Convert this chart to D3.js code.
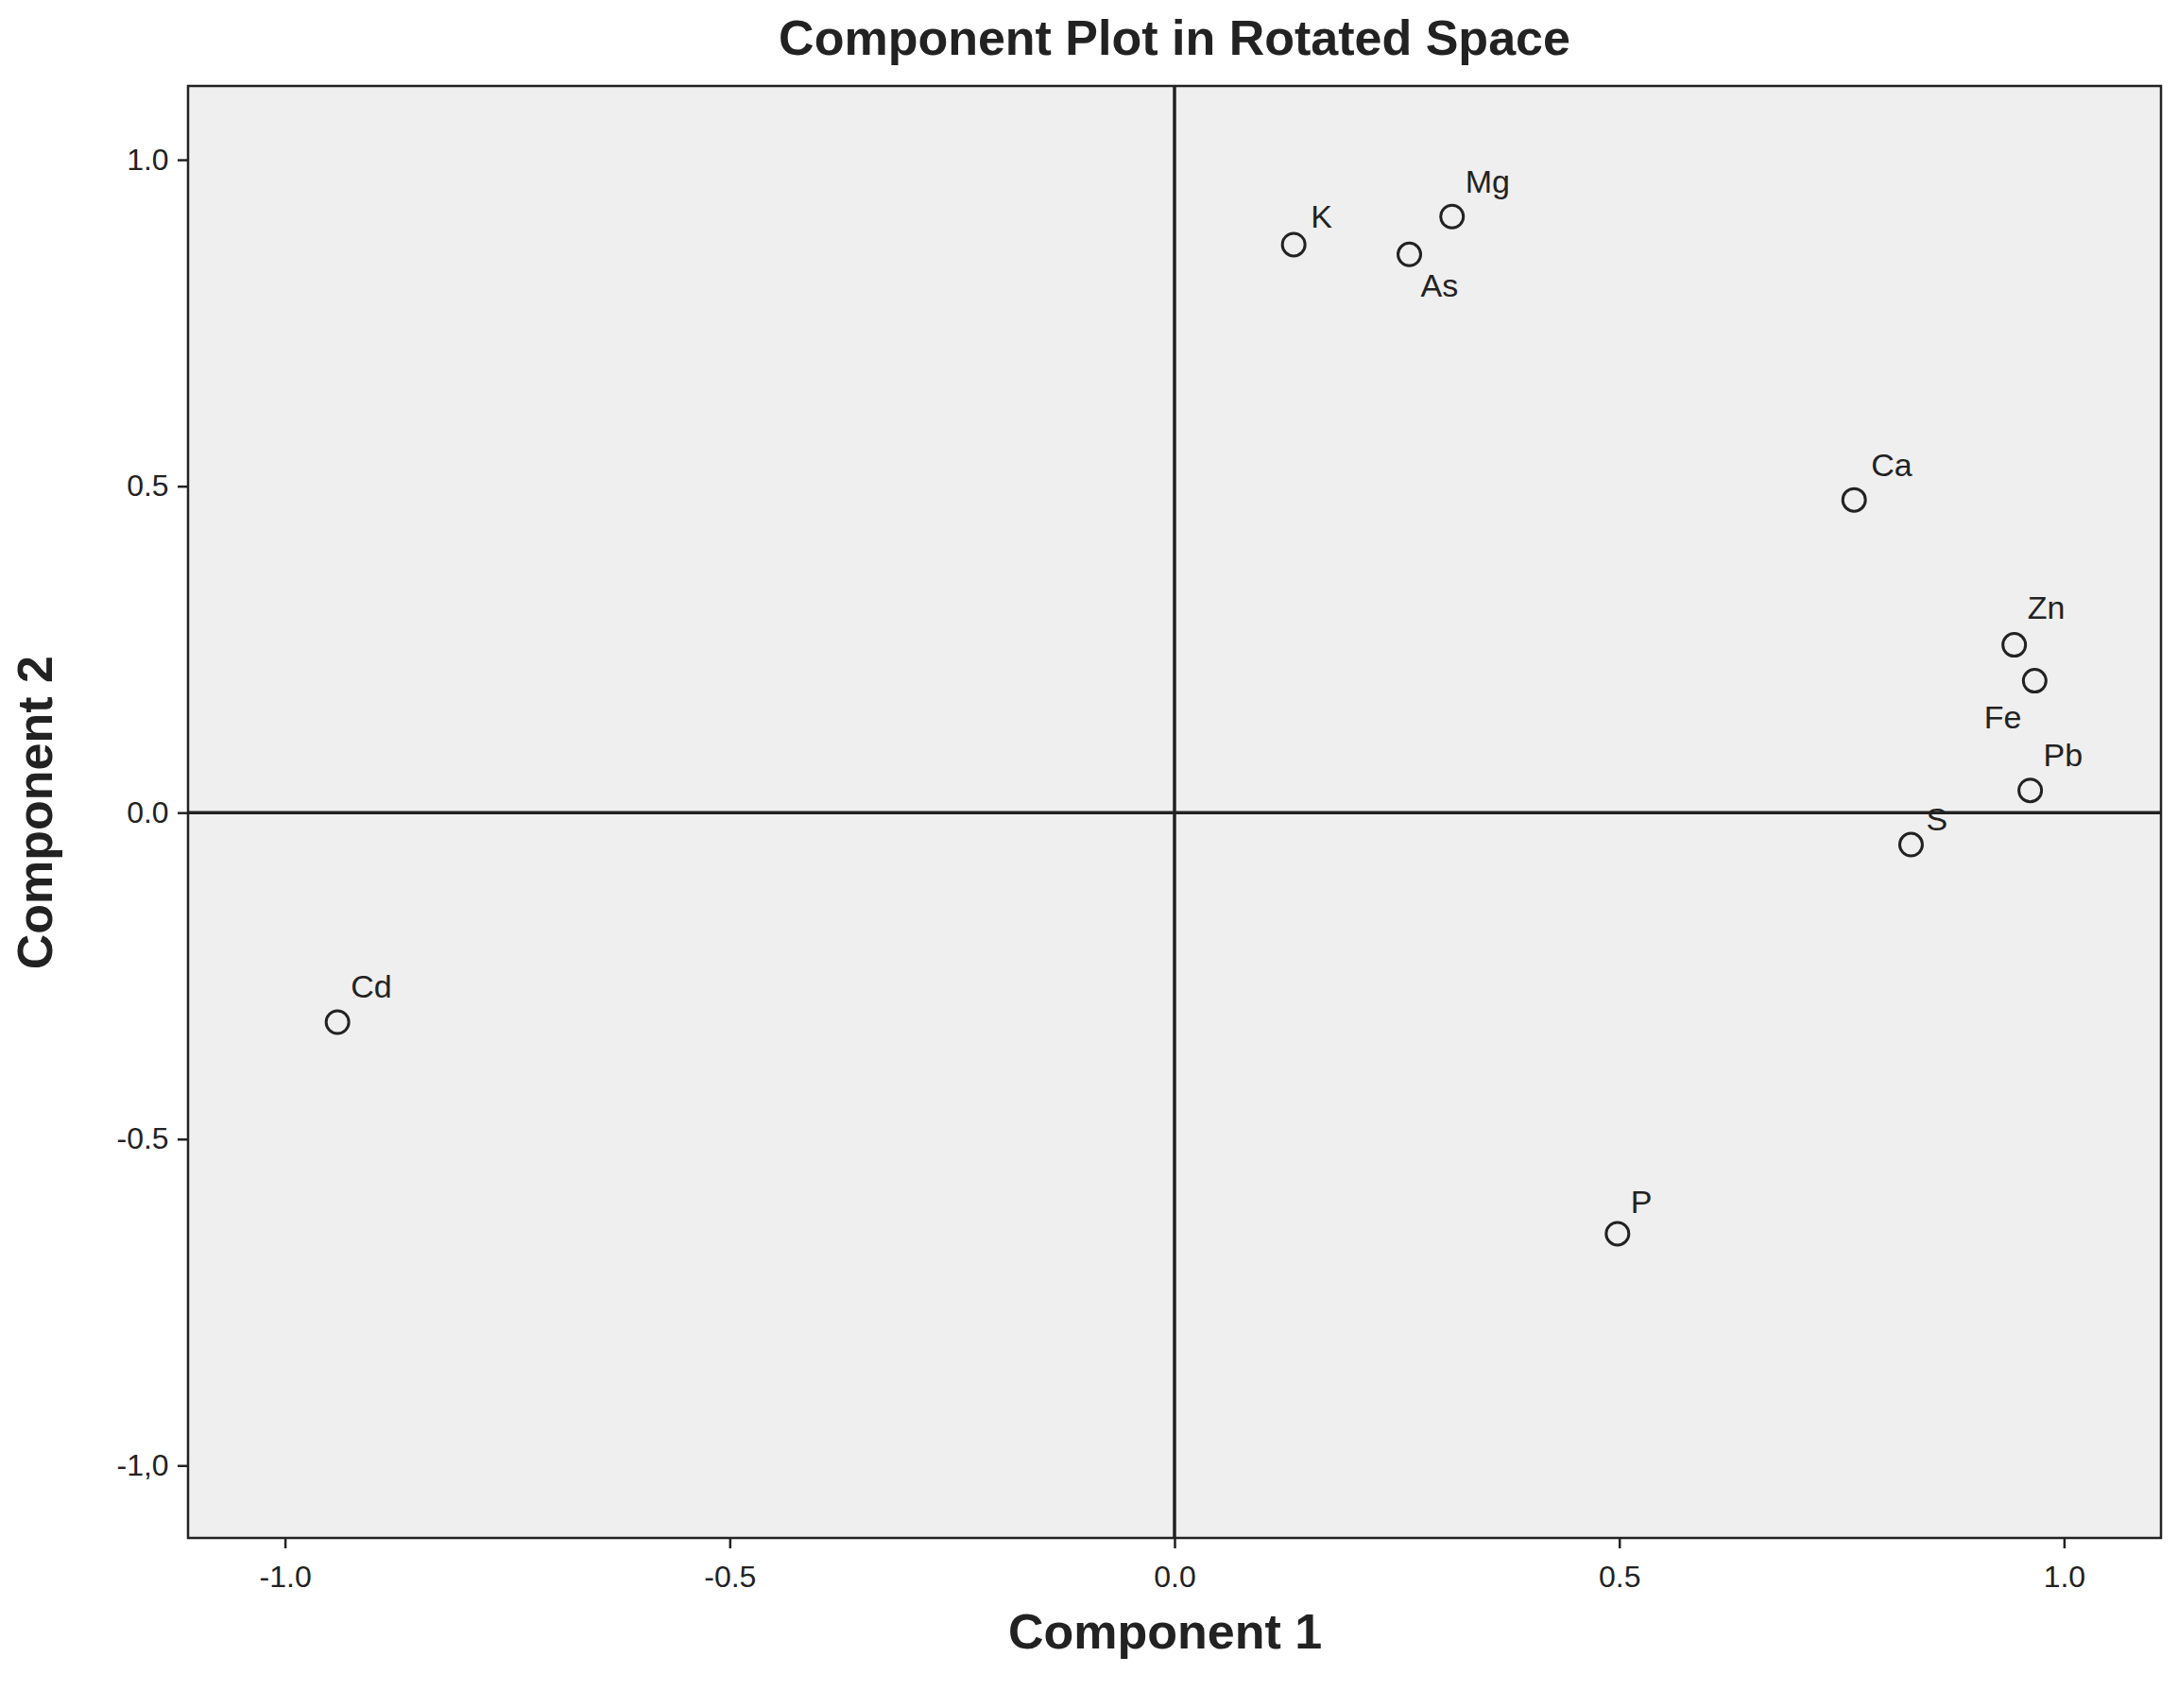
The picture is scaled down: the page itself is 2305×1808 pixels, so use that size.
<!DOCTYPE html>
<html><head><meta charset="utf-8">
<script src="https://cdn.jsdelivr.net/npm/d3@7"></script>
<style>body{margin:0;background:#fff}text{font-family:"Liberation Sans",Arial,sans-serif}</style>
</head><body><div id="chart"></div>
<script>
const labels = ['K','As','Mg','Ca','Zn','Fe','Pb','S','Cd','P']
const comp1 = [0.134,0.264,0.312,0.764,0.944,0.967,0.962,0.828,-0.941,0.498]
const comp2 = [0.870,0.855,0.913,0.479,0.257,0.202,0.034,-0.049,-0.321,-0.645]
const xTicks = [-1,-0.5,0,0.5,1]
const xTickLabels = ['-1.0','-0.5','0.0','0.5','1.0']
const yTicks = [1,0.5,0,-0.5,-1]
const yTickLabels = ['1.0','0.5','0.0','-0.5','-1,0']
// label offsets (dx, dy, anchor)
const lblPos = {K:[18,-18,'start'],As:[12,45,'start'],Mg:[14,-25,'start'],Ca:[18,-25,'start'],
  Zn:[14,-28,'start'],Fe:[-14,50,'end'],Pb:[14,-26,'start'],S:[16,-15,'start'],Cd:[14,-26,'start'],P:[14,-22,'start']}

const W = 2305, H = 1808
const m = {left: 199, right: 18, top: 91, bottom: 180}
const w = W - m.left - m.right
const h = H - m.top - m.bottom

const svg = d3.select('#chart').append('svg').attr('width', W).attr('height', H)
const g = svg.append('g').attr('transform', `translate(${m.left}, ${m.top})`)

const x = d3.scaleLinear().domain([-1.109, 1.109]).range([0, w])
const y = d3.scaleLinear().domain([-1.111, 1.113]).range([h, 0])

g.append('rect').attr('width', w).attr('height', h).attr('fill', '#efefef')
  .attr('stroke', '#222').attr('stroke-width', 2.5)

const xAxis = d3.axisBottom(x).tickValues(xTicks).tickSize(11).tickFormat((d, i) => xTickLabels[i])
const yAxis = d3.axisLeft(y).tickValues(yTicks).tickSize(11).tickFormat((d, i) => yTickLabels[i])
const ax = g.append('g').attr('transform', `translate(0, ${h})`).call(xAxis)
const ay = g.append('g').call(yAxis)
;[ax, ay].forEach(a => {
  a.select('.domain').remove()
  a.selectAll('line').attr('stroke', '#222').attr('stroke-width', 2.5)
  a.selectAll('text').attr('font-size', 32).attr('fill', '#222')
})
ax.selectAll('text').attr('dy', '1.2em')
ay.selectAll('text').attr('dx', '-0.2em')

// reference lines
g.append('line').attr('x1', x(0)).attr('x2', x(0)).attr('y1', 0).attr('y2', h).attr('stroke', '#222').attr('stroke-width', 3.5)
g.append('line').attr('x1', 0).attr('x2', w).attr('y1', y(0)).attr('y2', y(0)).attr('stroke', '#222').attr('stroke-width', 3.5)

const data = labels.map((l, i) => ({l, a: comp1[i], b: comp2[i]}))
g.selectAll('circle.pt').data(data).enter().append('circle')
  .attr('cx', d => x(d.a)).attr('cy', d => y(d.b)).attr('r', 12)
  .attr('fill', 'none').attr('stroke', '#222').attr('stroke-width', 3)
g.selectAll('text.lbl').data(data).enter().append('text')
  .attr('x', d => x(d.a) + lblPos[d.l][0]).attr('y', d => y(d.b) + lblPos[d.l][1])
  .attr('text-anchor', d => lblPos[d.l][2]).attr('font-size', 34).attr('fill', '#222').text(d => d.l)

svg.append('text').attr('x', m.left + w / 2).attr('y', 58).attr('text-anchor', 'middle')
  .attr('font-size', 52).attr('font-weight', 'bold').attr('fill', '#222').text('Component Plot in Rotated Space')
svg.append('text').attr('x', m.left + w / 2 - 10).attr('y', 1745).attr('text-anchor', 'middle')
  .attr('font-size', 52).attr('font-weight', 'bold').attr('fill', '#222').text('Component 1')
svg.append('text').attr('transform', `translate(55, ${y(0) + m.top}) rotate(-90)`).attr('text-anchor', 'middle')
  .attr('font-size', 52).attr('font-weight', 'bold').attr('fill', '#222').text('Component 2')
</script></body></html>
